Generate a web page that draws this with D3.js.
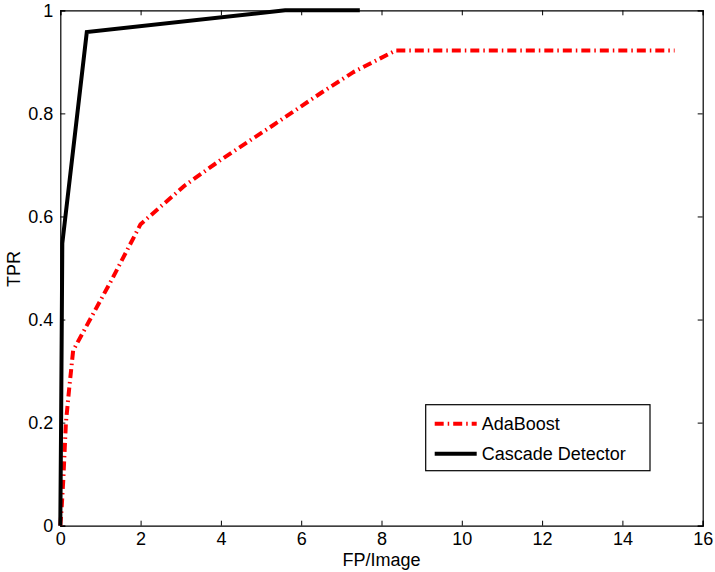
<!DOCTYPE html>
<html>
<head>
<meta charset="utf-8">
<script src="https://cdn.jsdelivr.net/npm/d3@7"></script>
<style>
  body { margin: 0; background: #fff; }
  svg { display: block; font-family: "Liberation Sans", Arial, Helvetica, sans-serif; }
</style>
</head>
<body>
<div id="chart"></div>
<script>
// FP/Image vs TPR values
let adaFP  = [0, 0.03, 0.075, 0.14, 0.22, 0.32, 0.6, 1.3, 2.0, 3.1, 4.0, 5.3, 6.5, 7.3, 8.35, 15.3]
let adaTPR = [0, 0.03, 0.09, 0.2, 0.265, 0.34, 0.38, 0.48, 0.585, 0.66, 0.71, 0.777, 0.84, 0.88, 0.922, 0.922]

let cascFP  = [0, 0.02, 0.05, 0.66, 5.6, 7.46]
let cascTPR = [0, 0.2, 0.548, 0.958, 1.0, 1.0]

let xTicks = [0, 2, 4, 6, 8, 10, 12, 14, 16]
let yTicks = [0, 0.2, 0.4, 0.6, 0.8, 1]
let seriesNames = ['AdaBoost', 'Cascade Detector']

let W = 715, H = 572
let margin = {top: 10.3, right: 12.3, bottom: 46.3, left: 60.3},
    width = W - margin.left - margin.right,
    height = H - margin.top - margin.bottom
let fs = 18

let svg = d3.select('#chart')
  .append('svg')
    .attr('width', W)
    .attr('height', H)
  .append('g')
    .attr('transform', 'translate(' + margin.left + ',' + margin.top + ')')

let x = d3.scaleLinear().domain([0, 16]).range([0, width])
let y = d3.scaleLinear().domain([0, 1]).range([height, 0])

let tickLen = 5

// bottom & left axes with labels, ticks pointing inward
let xAxis = svg.append('g')
  .attr('transform', 'translate(0,' + height + ')')
  .call(d3.axisBottom(x).tickValues(xTicks).tickFormat(d3.format('d')).tickSize(-tickLen).tickPadding(7))
let yAxis = svg.append('g')
  .call(d3.axisLeft(y).tickValues(yTicks).tickFormat(function(d){ return d === 0 || d === 1 ? d : d.toFixed(1) }).tickSize(-tickLen).tickPadding(7))

// top & right mirrored ticks
let xTop = svg.append('g')
  .call(d3.axisTop(x).tickValues(xTicks).tickFormat('').tickSize(-tickLen))
let yRight = svg.append('g')
  .attr('transform', 'translate(' + width + ',0)')
  .call(d3.axisRight(y).tickValues(yTicks).tickFormat('').tickSize(-tickLen))

;[xAxis, yAxis, xTop, yRight].forEach(function(a){
  a.selectAll('.domain').attr('stroke', '#000').attr('stroke-width', 1.2)
  a.selectAll('.tick line').attr('stroke', '#000').attr('stroke-width', 1)
  a.selectAll('text').attr('font-size', fs).attr('fill', '#000').attr('font-family', null)
})
xAxis.selectAll('.tick text').attr('dy', '0.71em')

svg.append('text')
  .attr('x', width / 2)
  .attr('y', height + 40.3)
  .attr('text-anchor', 'middle')
  .attr('font-size', fs)
  .text('FP/Image')

svg.append('text')
  .attr('transform', 'translate(-40,' + (height / 2 + 1) + ') rotate(-90)')
  .attr('text-anchor', 'middle')
  .attr('font-size', fs)
  .text('TPR')

let line = d3.line()
  .x(function(d){ return x(d[0]) })
  .y(function(d){ return y(d[1]) })

let adaData = adaFP.map(function(v, i){ return [v, adaTPR[i]] })
let cascData = cascFP.map(function(v, i){ return [v, cascTPR[i]] })

let styles = [
  {stroke: '#ff0000', dash: '9,4,1.5,4'},
  {stroke: '#000000', dash: null}
]

svg.append('path')
  .datum(adaData)
  .attr('fill', 'none')
  .attr('stroke', styles[0].stroke)
  .attr('stroke-width', 4)
  .attr('stroke-dasharray', styles[0].dash)
  .attr('stroke-linejoin', 'round')
  .attr('d', line)

svg.append('path')
  .datum(cascData)
  .attr('fill', 'none')
  .attr('stroke', styles[1].stroke)
  .attr('stroke-width', 4)
  .attr('stroke-linejoin', 'miter')
  .attr('d', line)

// legend
let lg = svg.append('g')
  .attr('transform', 'translate(' + (425.7 - margin.left) + ',' + (404.7 - margin.top) + ')')
lg.append('rect')
  .attr('width', 224.3)
  .attr('height', 66)
  .attr('fill', '#fff')
  .attr('stroke', '#000')
  .attr('stroke-width', 1.2)

seriesNames.forEach(function(name, i){
  let yy = 19 + i * 30
  lg.append('line')
    .attr('x1', 9).attr('x2', 51)
    .attr('y1', yy).attr('y2', yy)
    .attr('stroke', styles[i].stroke)
    .attr('stroke-width', 4)
    .attr('stroke-dasharray', styles[i].dash)
  lg.append('text')
    .attr('x', 56)
    .attr('y', yy)
    .attr('dy', '0.35em')
    .attr('font-size', fs)
    .text(name)
})
</script>
</body>
</html>
